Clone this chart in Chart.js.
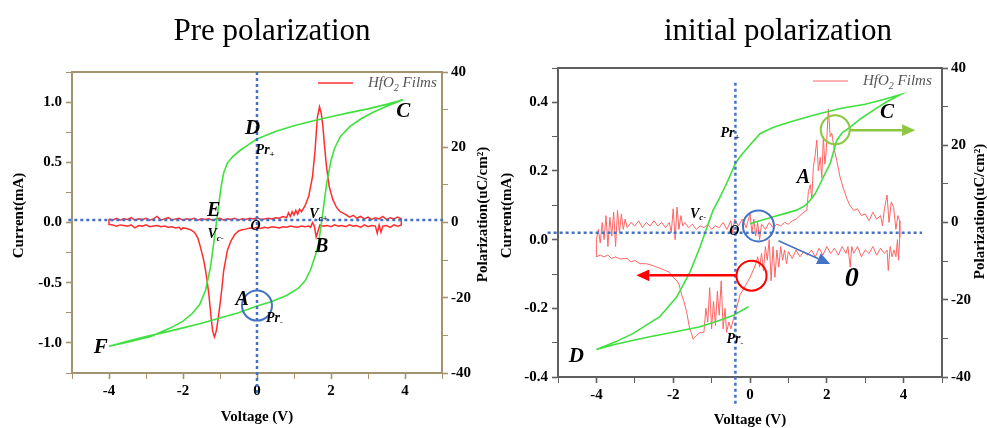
<!DOCTYPE html>
<html>
<head>
<meta charset="utf-8">
<script src="https://cdn.jsdelivr.net/npm/chart.js@4.4.1/dist/chart.umd.min.js"></script>
<style>
  body { margin: 0; background: #fff; width: 987px; height: 428px; overflow: hidden; position: relative; }
  canvas { position: absolute; top: 0; }
  #pre { left: 0; }
  #init { left: 493px; }
</style>
</head>
<body>
<canvas id="pre" width="493" height="428"></canvas>
<canvas id="init" width="494" height="428"></canvas>
<script>
// === Data ===
const voltTicks = [-4, -2, 0, 2, 4];
const polTicks = [-40, -20, 0, 20, 40];
const preCurrTicks = [-1.0, -0.5, 0, 0.5, 1.0];
const initCurrTicks = [-0.4, -0.2, 0, 0.2, 0.4];

// Pre polarization: P-V loop (uC/cm2), C -> F -> C
const preLoopUpper = [[3.95,32.6],[3.5,31.4],[3.0,30.2],[2.5,29.2],[2.0,28.1],[1.5,27.0],[1.0,25.7],[0.5,24.2],[0.0,22.2],[-0.2,20.9],[-0.45,19.2],[-0.65,17.6],[-0.8,15.8],[-0.9,13.2],[-0.97,9.5],[-1.03,5.0],[-1.08,1.3],[-1.15,-4.0],[-1.26,-12.0],[-1.39,-18.0],[-1.55,-21.8],[-1.75,-24.2],[-2.0,-26.2],[-2.33,-28.0],[-2.87,-30.3],[-3.5,-31.8],[-4.0,-32.9]];
const preLoopLower = [[-4.0,-32.9],[-3.5,-31.6],[-3.0,-30.3],[-2.5,-29.2],[-2.0,-28.0],[-1.5,-26.8],[-1.0,-25.4],[-0.5,-24.0],[0.0,-22.2],[0.4,-21.0],[0.8,-19.4],[1.1,-17.6],[1.3,-15.5],[1.45,-12.5],[1.57,-9.0],[1.66,-5.8],[1.75,0.5],[1.88,10.2],[2.0,16.5],[2.1,19.8],[2.25,22.8],[2.5,25.4],[2.8,27.5],[3.14,29.3],[3.5,30.9],[3.95,32.6]];

// Pre polarization: current (mA), sweep up then down
const preCurrentUp = [[-4.0,0.03],[-3.9,0.02],[-3.8,0.035],[-3.7,0.02],[-3.6,0.03],[-3.5,0.025],[-3.4,0.04],[-3.3,0.02],[-3.2,0.03],[-3.1,0.025],[-3.0,0.035],[-2.9,0.02],[-2.8,0.03],[-2.7,0.05],[-2.6,0.02],[-2.5,0.03],[-2.4,0.04],[-2.3,0.02],[-2.2,0.03],[-2.1,0.035],[-2.0,0.02],[-1.9,0.03],[-1.8,0.025],[-1.7,0.035],[-1.6,0.02],[-1.5,0.03],[-1.4,0.025],[-1.3,0.03],[-1.2,0.02],[-1.1,0.03],[-1.0,0.035],[-0.9,0.02],[-0.8,0.03],[-0.7,0.025],[-0.6,0.035],[-0.5,0.02],[-0.4,0.03],[-0.3,0.025],[-0.2,0.035],[-0.1,0.03],[0.0,0.04],[0.1,0.025],[0.2,0.03],[0.3,0.035],[0.4,0.03],[0.5,0.04],[0.6,0.035],[0.7,0.05],[0.8,0.04],[0.85,0.08],[0.9,0.05],[0.95,0.09],[1.0,0.06],[1.05,0.1],[1.1,0.07],[1.15,0.11],[1.2,0.09],[1.3,0.14],[1.4,0.22],[1.5,0.38],[1.57,0.6],[1.63,0.87],[1.69,0.96],[1.74,0.9],[1.78,0.8],[1.83,0.62],[1.88,0.46],[1.95,0.3],[2.05,0.19],[2.15,0.125],[2.25,0.09],[2.38,0.07],[2.5,0.045],[2.6,0.06],[2.7,0.035],[2.8,0.05],[2.9,0.03],[3.0,0.045],[3.1,0.025],[3.2,0.04],[3.3,0.03],[3.4,0.05],[3.5,0.025],[3.6,0.04],[3.7,0.03],[3.8,0.045],[3.9,0.03]];
const preCurrentDown = [[3.9,-0.02],[3.8,-0.03],[3.7,-0.02],[3.6,-0.04],[3.5,-0.025],[3.4,-0.03],[3.35,-0.08],[3.3,-0.02],[3.25,-0.09],[3.2,-0.03],[3.1,-0.025],[3.0,-0.035],[2.9,-0.02],[2.8,-0.04],[2.7,-0.025],[2.6,-0.03],[2.5,-0.02],[2.4,-0.035],[2.3,-0.025],[2.2,-0.03],[2.1,-0.02],[2.0,-0.035],[1.9,-0.025],[1.8,-0.03],[1.7,-0.02],[1.65,-0.07],[1.6,-0.12],[1.55,-0.03],[1.5,0.0],[1.45,-0.04],[1.4,-0.03],[1.3,-0.035],[1.2,-0.03],[1.1,-0.04],[1.0,-0.035],[0.9,-0.03],[0.8,-0.04],[0.7,-0.035],[0.6,-0.045],[0.5,-0.04],[0.4,-0.035],[0.3,-0.045],[0.2,-0.04],[0.1,-0.05],[0.0,-0.04],[-0.1,-0.05],[-0.2,-0.045],[-0.3,-0.055],[-0.4,-0.06],[-0.5,-0.07],[-0.6,-0.1],[-0.7,-0.15],[-0.8,-0.23],[-0.9,-0.4],[-0.95,-0.55],[-1.0,-0.68],[-1.05,-0.8],[-1.1,-0.9],[-1.15,-0.95],[-1.2,-0.9],[-1.25,-0.76],[-1.3,-0.6],[-1.35,-0.48],[-1.4,-0.38],[-1.45,-0.3],[-1.5,-0.24],[-1.55,-0.18],[-1.6,-0.13],[-1.65,-0.1],[-1.7,-0.08],[-1.8,-0.06],[-1.9,-0.05],[-2.0,-0.045],[-2.05,-0.06],[-2.1,-0.04],[-2.2,-0.045],[-2.3,-0.035],[-2.4,-0.04],[-2.5,-0.03],[-2.6,-0.035],[-2.7,-0.025],[-2.8,-0.03],[-2.9,-0.035],[-3.0,-0.02],[-3.1,-0.03],[-3.2,-0.025],[-3.3,-0.045],[-3.4,-0.02],[-3.5,-0.03],[-3.6,-0.025],[-3.7,-0.02],[-3.8,-0.03],[-3.9,-0.02],[-4.0,-0.015],[-4.0,0.03]];

// Initial polarization: P-V curve, O -> C -> D -> Pr-
const initLoopVirgin = [[0.0,-0.3],[0.3,0.6],[0.61,1.5],[0.9,2.3],[1.22,3.2],[1.45,4.5],[1.57,5.8],[1.7,7.5],[1.83,10.1],[1.96,12.8],[2.09,15.3],[2.18,18.5],[2.26,21.3],[2.4,23.2],[2.61,24.7],[2.9,27.0],[3.22,29.1],[3.55,31.2],[3.91,33.1]];
const initLoopUpper = [[3.91,33.1],[3.5,31.9],[3.0,30.6],[2.35,29.5],[1.7,27.9],[1.04,26.0],[0.6,24.6],[0.26,23.0],[-0.04,19.6],[-0.26,17.0],[-0.38,15.3],[-0.61,10.1],[-0.8,6.2],[-0.96,3.2],[-1.13,-1.5],[-1.3,-6.3],[-1.57,-13.0],[-1.91,-19.3],[-2.35,-24.4],[-3.04,-28.7],[-3.5,-30.9],[-4.0,-32.9]];
const initLoopLower = [[-4.0,-32.9],[-3.5,-31.5],[-3.0,-30.4],[-2.61,-29.6],[-2.0,-28.4],[-1.3,-27.0],[-0.8,-25.4],[-0.43,-24.0],[-0.04,-21.8]];

// Initial polarization: current (mA)
const initCurrentUp = [[-4.0,0.0],[-3.95,0.03],[-3.9,-0.01],[-3.85,0.05],[-3.8,0.0],[-3.75,0.07],[-3.7,-0.02],[-3.65,0.065],[-3.6,0.01],[-3.55,0.08],[-3.5,-0.02],[-3.45,0.085],[-3.4,0.02],[-3.35,0.075],[-3.3,0.03],[-3.25,0.06],[-3.2,0.035],[-3.1,0.05],[-3.0,0.04],[-2.9,0.055],[-2.8,0.035],[-2.7,0.05],[-2.6,0.04],[-2.5,0.055],[-2.4,0.04],[-2.3,0.05],[-2.2,0.035],[-2.1,0.05],[-2.05,0.02],[-2.0,0.09],[-1.95,0.0],[-1.9,0.095],[-1.85,0.03],[-1.8,0.07],[-1.75,0.04],[-1.7,0.05],[-1.6,0.035],[-1.5,0.045],[-1.4,0.03],[-1.3,0.04],[-1.2,0.035],[-1.1,0.045],[-1.0,0.03],[-0.9,0.04],[-0.8,0.035],[-0.7,0.05],[-0.6,0.03],[-0.5,0.055],[-0.45,0.02],[-0.4,0.06],[-0.3,0.04],[-0.2,0.06],[-0.1,0.035],[0.0,0.075],[0.05,0.02],[0.1,0.06],[0.15,0.01],[0.2,0.05],[0.25,0.0],[0.3,0.045],[0.4,0.03],[0.5,0.05],[0.6,0.035],[0.7,0.045],[0.8,0.04],[0.9,0.05],[1.0,0.045],[1.1,0.055],[1.2,0.06],[1.3,0.07],[1.4,0.08],[1.48,0.085],[1.52,0.14],[1.57,0.16],[1.61,0.12],[1.65,0.21],[1.7,0.25],[1.74,0.29],[1.78,0.2],[1.83,0.24],[1.87,0.18],[1.91,0.3],[1.95,0.22],[1.98,0.25],[2.04,0.38],[2.09,0.3],[2.13,0.31],[2.2,0.26],[2.26,0.23],[2.35,0.18],[2.43,0.15],[2.52,0.12],[2.6,0.1],[2.7,0.085],[2.8,0.09],[2.9,0.07],[3.0,0.075],[3.1,0.055],[3.2,0.08],[3.3,0.06],[3.4,0.07],[3.45,0.04],[3.5,0.09],[3.57,0.13],[3.62,0.05],[3.68,0.11],[3.74,0.094],[3.8,0.03],[3.85,0.07],[3.9,0.055]];
const initCurrentDown = [[3.9,0.007],[3.87,-0.06],[3.84,0.0],[3.8,-0.05],[3.75,-0.03],[3.7,-0.05],[3.65,-0.02],[3.6,-0.09],[3.57,-0.03],[3.5,-0.04],[3.4,-0.025],[3.3,-0.045],[3.2,-0.02],[3.1,-0.04],[3.0,-0.03],[2.9,-0.05],[2.8,-0.02],[2.7,-0.04],[2.65,-0.02],[2.61,-0.08],[2.55,-0.02],[2.5,-0.04],[2.4,-0.02],[2.3,-0.045],[2.2,-0.025],[2.1,-0.04],[2.0,-0.02],[1.9,-0.045],[1.8,-0.025],[1.7,-0.05],[1.6,-0.03],[1.5,-0.045],[1.4,-0.035],[1.3,-0.05],[1.2,-0.03],[1.1,-0.055],[1.0,-0.035],[0.95,-0.07],[0.9,-0.03],[0.85,-0.06],[0.8,-0.02],[0.75,-0.08],[0.7,-0.03],[0.65,-0.11],[0.6,-0.02],[0.55,-0.12],[0.5,0.0],[0.45,-0.06],[0.4,-0.02],[0.35,-0.09],[0.3,-0.04],[0.25,-0.08],[0.2,-0.05],[0.15,-0.07],[0.1,-0.085],[0.0,-0.11],[-0.1,-0.13],[-0.2,-0.15],[-0.26,-0.16],[-0.35,-0.2],[-0.43,-0.23],[-0.5,-0.26],[-0.55,-0.24],[-0.61,-0.27],[-0.65,-0.2],[-0.7,-0.26],[-0.75,-0.12],[-0.8,-0.22],[-0.85,-0.15],[-0.9,-0.25],[-0.95,-0.18],[-1.0,-0.26],[-1.05,-0.14],[-1.1,-0.24],[-1.15,-0.2],[-1.2,-0.27],[-1.3,-0.27],[-1.4,-0.28],[-1.48,-0.29],[-1.53,-0.27],[-1.57,-0.26],[-1.65,-0.21],[-1.72,-0.18],[-1.78,-0.16],[-1.85,-0.13],[-1.9,-0.12],[-2.0,-0.11],[-2.1,-0.095],[-2.2,-0.09],[-2.3,-0.085],[-2.43,-0.08],[-2.55,-0.075],[-2.7,-0.07],[-2.87,-0.07],[-3.0,-0.06],[-3.1,-0.065],[-3.2,-0.055],[-3.39,-0.056],[-3.5,-0.05],[-3.6,-0.055],[-3.7,-0.045],[-3.8,-0.05],[-3.9,-0.045],[-4.0,-0.05],[-4.0,0.0]];

// === Annotations (voltage, current) ===
const preTags = [
    { t: "C", v: 3.95, i: 0.92, size: 21 },
    { t: "D", v: -0.12, i: 0.78, size: 21 },
    { t: "Pr", sub: "+", v: 0.22, i: 0.6, size: 14 },
    { t: "E", v: -1.17, i: 0.1, size: 20 },
    { t: "V", sub: "c-", v: -1.12, i: -0.1, size: 14 },
    { t: "O", v: -0.04, i: -0.035, size: 14 },
    { t: "V", sub: "c+", v: 1.66, i: 0.07, size: 14 },
    { t: "B", v: 1.75, i: -0.2, size: 20 },
    { t: "A", v: -0.4, i: -0.64, size: 20 },
    { t: "Pr", sub: "-", v: 0.47, i: -0.8, size: 14 },
    { t: "F", v: -4.22, i: -1.04, size: 21 },
];
const initTags = [
    { t: "C", v: 3.57, i: 0.37, size: 21 },
    { t: "Pr", sub: "+", v: -0.52, i: 0.31, size: 14 },
    { t: "A", v: 1.39, i: 0.18, size: 20 },
    { t: "V", sub: "c-", v: -1.35, i: 0.075, size: 14 },
    { t: "O", v: -0.41, i: 0.024, size: 14 },
    { t: "Pr", sub: "-", v: -0.39, i: -0.29, size: 14 },
    { t: "D", v: -4.52, i: -0.34, size: 21 },
    { t: "0", v: 2.65, i: -0.115, size: 28 },
];

const FONT = '"Liberation Serif", "Times New Roman", serif';

function pts(list) {
    return list.map(([x, y]) => ({ x, y }));
}

function near(v, list) {
    return list.some(t => Math.abs(t - v) < 1e-6);
}

function drawTag(ctx, x, y, tag) {
    const main = `italic bold ${tag.size}px ${FONT}`;
    const small = `italic bold ${Math.round(tag.size * 0.65)}px ${FONT}`;
    ctx.font = main;
    const w1 = ctx.measureText(tag.t).width;
    let w2 = 0;
    if (tag.sub) {
        ctx.font = small;
        w2 = ctx.measureText(tag.sub).width;
    }
    const x0 = x - (w1 + w2) / 2;
    ctx.fillStyle = "#000";
    ctx.textAlign = "left";
    ctx.textBaseline = "middle";
    ctx.font = main;
    ctx.fillText(tag.t, x0, y);
    if (tag.sub) {
        ctx.font = small;
        ctx.fillText(tag.sub, x0 + w1, y + tag.size * 0.3);
    }
}

function arrow(ctx, x0, y0, x1, y1, color, width, head) {
    const a = Math.atan2(y1 - y0, x1 - x0);
    const bx = x1 - Math.cos(a) * head;
    const by = y1 - Math.sin(a) * head;
    ctx.strokeStyle = color;
    ctx.fillStyle = color;
    ctx.lineWidth = width;
    ctx.setLineDash([]);
    ctx.beginPath();
    ctx.moveTo(x0, y0);
    ctx.lineTo(bx, by);
    ctx.stroke();
    ctx.beginPath();
    ctx.moveTo(x1, y1);
    ctx.lineTo(bx + Math.sin(a) * head * 0.45, by - Math.cos(a) * head * 0.45);
    ctx.lineTo(bx - Math.sin(a) * head * 0.45, by + Math.cos(a) * head * 0.45);
    ctx.closePath();
    ctx.fill();
}

function vText(ctx, text, x, y) {
    ctx.save();
    ctx.fillStyle = "#000";
    ctx.font = `bold 15px ${FONT}`;
    ctx.textAlign = "center";
    ctx.textBaseline = "middle";
    ctx.translate(x, y);
    ctx.rotate(-Math.PI / 2);
    ctx.fillText(text, 0, 0);
    ctx.restore();
}

// === Panel factory ===
function panel(id, cfg) {
    const decor = {
        id: "decor-" + id,
        afterDraw(chart) {
            const { ctx, chartArea: ca, scales } = chart;
            const X = v => scales.x.getPixelForValue(v);
            const Y = v => scales.y.getPixelForValue(v);
            const midY = (ca.top + ca.bottom) / 2;
            ctx.save();

            // top frame line
            ctx.strokeStyle = cfg.frame;
            ctx.lineWidth = 2;
            ctx.beginPath();
            ctx.moveTo(ca.left - 1, ca.top);
            ctx.lineTo(ca.right + 1, ca.top);
            ctx.stroke();

            // dotted guides
            ctx.strokeStyle = "#4472c4";
            ctx.lineWidth = 2.5;
            ctx.setLineDash([3, 3]);
            ctx.beginPath();
            ctx.moveTo(X(cfg.hGuide.x0), Y(cfg.hGuide.y));
            ctx.lineTo(X(cfg.hGuide.x1), Y(cfg.hGuide.y));
            ctx.moveTo(X(cfg.vGuide.x), Y(cfg.vGuide.y0));
            ctx.lineTo(X(cfg.vGuide.x), Y(cfg.vGuide.y1));
            ctx.stroke();
            ctx.setLineDash([]);

            // circles
            cfg.circles.forEach(c => {
                ctx.strokeStyle = c.color;
                ctx.lineWidth = 2;
                ctx.beginPath();
                ctx.arc(X(c.v), Y(c.i), c.r, 0, Math.PI * 2);
                ctx.stroke();
            });

            // arrows
            cfg.arrows.forEach(a => {
                arrow(ctx, X(a.v0), Y(a.i0), X(a.v1), Y(a.i1), a.color, a.width, a.head);
            });

            // point labels
            cfg.tags.forEach(t => drawTag(ctx, X(t.v), Y(t.i), t));

            // legend
            const lx = ca.right - cfg.legendDx;
            const ly = ca.top + cfg.legendDy;
            ctx.strokeStyle = cfg.red;
            ctx.lineWidth = cfg.redWidth;
            ctx.beginPath();
            ctx.moveTo(lx, ly);
            ctx.lineTo(lx + 35, ly);
            ctx.stroke();
            ctx.fillStyle = "#555";
            ctx.textAlign = "left";
            ctx.textBaseline = "middle";
            ctx.font = `italic 15px ${FONT}`;
            let tx = lx + 50;
            ctx.fillText("HfO", tx, ly);
            tx += ctx.measureText("HfO").width;
            ctx.font = `italic 10px ${FONT}`;
            ctx.fillText("2", tx, ly + 5);
            tx += ctx.measureText("2").width;
            ctx.font = `italic 15px ${FONT}`;
            ctx.fillText(" Films", tx, ly);

            // vertical axis titles (both read bottom to top)
            vText(ctx, "Current(mA)", cfg.leftTitleX, midY + cfg.leftTitleDy);
            vText(ctx, "Polarization(uC/cm\u00B2)", chart.width - cfg.rightTitleDx, midY + cfg.rightTitleDy);

            // panel title
            ctx.fillStyle = "#000";
            ctx.font = `31px ${FONT}`;
            ctx.textAlign = "center";
            ctx.textBaseline = "alphabetic";
            ctx.fillText(cfg.title, cfg.titleX, 40);
            ctx.restore();
        },
    };

    const tickFont = { family: FONT, size: 15, weight: "bold" };
    const titleFont = { family: FONT, size: 15, weight: "bold", lineHeight: 1.2 };
    const axisGrid = {
        drawOnChartArea: false,
        tickLength: 6,
        color: cfg.frame,
        tickWidth: c => (c.tick && c.tick.label === "" ? 1 : 1.6),
    };
    const axisBorder = { color: cfg.frame, width: 2 };

    return new Chart(document.getElementById(id), {
        type: "line",
        data: {
            datasets: [
                {
                    label: "HfO2 Films",
                    data: pts(cfg.current),
                    yAxisID: "y",
                    borderColor: cfg.red,
                    borderWidth: cfg.redWidth,
                    pointRadius: 0,
                    tension: 0,
                    order: 2,
                },
                {
                    label: "P-V",
                    data: pts(cfg.loop),
                    yAxisID: "y2",
                    borderColor: "#3fe03f",
                    borderWidth: 1.6,
                    pointRadius: 0,
                    tension: 0,
                    order: 1,
                },
            ],
        },
        options: {
            responsive: false,
            animation: false,
            devicePixelRatio: 1,
            layout: { padding: { top: cfg.top, left: 0, right: 0, bottom: 0 } },
            plugins: { legend: { display: false }, tooltip: { enabled: false } },
            scales: {
                x: {
                    type: "linear",
                    min: -5,
                    max: 5,
                    ticks: {
                        stepSize: 1,
                        autoSkip: false,
                        maxRotation: 0,
                        padding: 3,
                        color: "#000",
                        font: tickFont,
                        callback: v => (near(v, voltTicks) ? String(v) : ""),
                    },
                    grid: axisGrid,
                    border: axisBorder,
                    title: {
                        display: true,
                        text: "Voltage (V)",
                        color: "#000",
                        font: { ...titleFont, lineHeight: cfg.xTitleLH },
                        padding: { top: 0, bottom: cfg.xTitlePad },
                    },
                    afterFit: s => { s.height = cfg.xh; },
                },
                y: {
                    position: "left",
                    min: cfg.yMin,
                    max: cfg.yMax,
                    ticks: {
                        stepSize: cfg.yStep,
                        autoSkip: false,
                        padding: 4,
                        color: "#000",
                        font: tickFont,
                        callback: v => (near(v, cfg.yTicks) ? v.toFixed(1) : ""),
                    },
                    grid: axisGrid,
                    border: axisBorder,
                    afterFit: s => { s.width = cfg.yw; },
                },
                y2: {
                    position: "right",
                    min: -40,
                    max: 40,
                    ticks: {
                        stepSize: 10,
                        autoSkip: false,
                        padding: 3,
                        color: "#000",
                        font: tickFont,
                        callback: v => (near(v, polTicks) ? String(v) : ""),
                    },
                    grid: axisGrid,
                    border: axisBorder,
                    afterFit: s => { s.width = cfg.y2w; },
                },
            },
        },
        plugins: [decor],
    });
}

panel("pre", {
    title: "Pre polarization",
    titleX: 272,
    frame: "#a3946f",
    red: "#ff2e2e",
    redWidth: 1.5,
    current: preCurrentUp.concat(preCurrentDown),
    loop: preLoopUpper.concat(preLoopLower),
    yMin: -1.25, yMax: 1.25, yStep: 0.25, yTicks: preCurrTicks,
    top: 72, xh: 55, yw: 72, y2w: 51,
    xTitleLH: 1.2, xTitlePad: 2,
    leftTitleX: 19, leftTitleDy: -7,
    rightTitleDx: 10, rightTitleDy: -8,
    legendDx: 124, legendDy: 11,
    hGuide: { y: 0.02, x0: -5.1, x1: 5.03 },
    vGuide: { x: 0, y0: 1.25, y1: -1.43 },
    circles: [{ v: 0, i: -0.69, r: 15, color: "#4472c4" }],
    arrows: [],
    tags: preTags,
});

panel("init", {
    title: "initial polarization",
    titleX: 285,
    frame: "#5f5f5f",
    red: "#ff6464",
    redWidth: 1,
    current: initCurrentUp.concat(initCurrentDown),
    loop: initLoopVirgin.concat(initLoopUpper, initLoopLower),
    yMin: -0.4, yMax: 0.5, yStep: 0.1, yTicks: initCurrTicks,
    top: 68, xh: 51, yw: 65, y2w: 45,
    xTitleLH: 1.0, xTitlePad: 0,
    leftTitleX: 14, leftTitleDy: -7,
    rightTitleDx: 7, rightTitleDy: -11,
    legendDx: 129, legendDy: 13,
    hGuide: { y: 0.02, x0: -5.27, x1: 4.48 },
    vGuide: { x: -0.38, y0: 0.457, y1: -0.48 },
    circles: [
        { v: 0.22, i: 0.04, r: 15.5, color: "#4472c4" },
        { v: 0.04, i: -0.105, r: 15, color: "#ff0000" },
        { v: 2.22, i: 0.32, r: 14.5, color: "#8dc63f" },
    ],
    arrows: [
        { v0: 0.74, i0: -0.003, v1: 2.09, i1: -0.071, color: "#4472c4", width: 1.5, head: 13 },
        { v0: -0.37, i0: -0.104, v1: -2.96, i1: -0.104, color: "#ff0000", width: 2.5, head: 13 },
        { v0: 2.6, i0: 0.319, v1: 4.3, i1: 0.319, color: "#8dc63f", width: 2.5, head: 13 },
    ],
    tags: initTags,
});
</script>
</body>
</html>
